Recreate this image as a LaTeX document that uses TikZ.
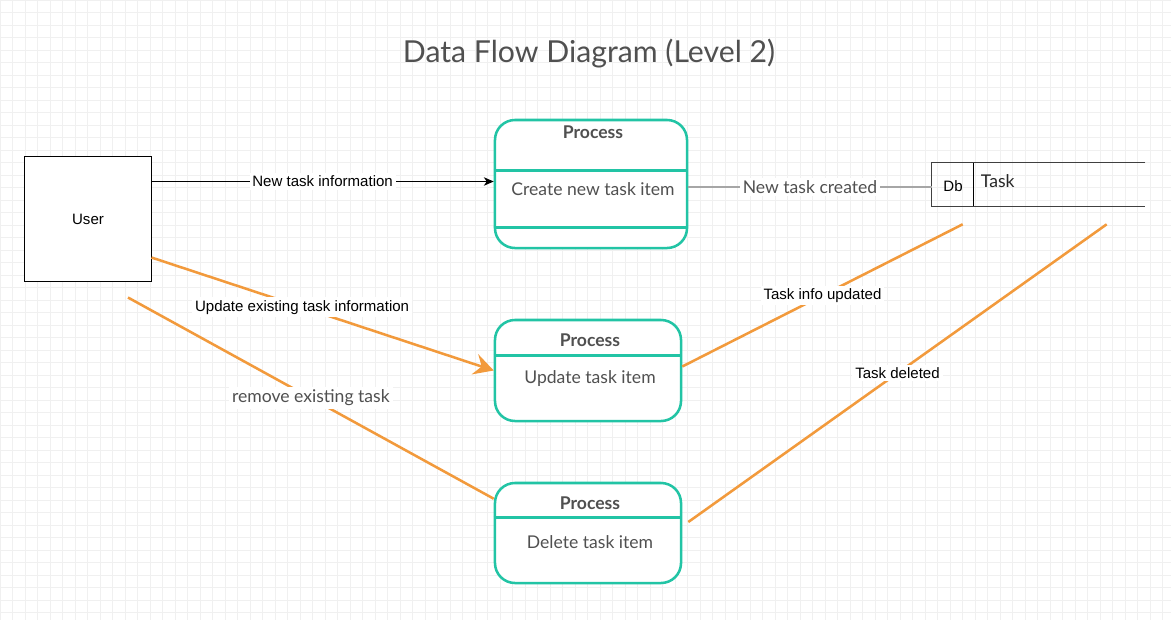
\documentclass[tikz,border=0pt]{standalone}
\usepackage{fontspec}
\setmainfont{Lato}
\newfontfamily\arialfont{Liberation Sans}
\usepackage{xcolor}
\usetikzlibrary{calc,arrows.meta,positioning}
\definecolor{procteal}{HTML}{22C4A5}
\definecolor{floworange}{HTML}{F29A3C}
\definecolor{textgray}{HTML}{505050}
\definecolor{linegray}{HTML}{A6A6A6}
\definecolor{gridgray}{HTML}{F0F0F0}
\tikzstyle{process}=[draw=procteal, line width=1.8pt, rounded corners=0.5cm, fill=white]
\tikzstyle{procdiv}=[draw=procteal, line width=1.8pt]
\tikzstyle{prochead}=[font=\bfseries\fontsize{12.5}{15}\selectfont, text=textgray]
\tikzstyle{proctext}=[font=\fontsize{12.5}{15}\selectfont, text=textgray]
\tikzstyle{entity}=[draw=black, line width=0.7pt, fill=white, font=\arialfont\fontsize{10.7}{13}\selectfont]
\tikzstyle{arlabel}=[fill=white, inner sep=2pt, font=\arialfont\fontsize{10.7}{13}\selectfont]
\tikzstyle{latolabel}=[fill=white, inner sep=2pt, font=\fontsize{12.5}{15}\selectfont, text=textgray]
\tikzstyle{orangeflow}=[draw=floworange, line width=1.8pt]
\newcommand{\procDivide}[2]{
	\draw[procdiv] ($(#1.north west)+(0,#2)$) -- ($(#1.north east)+(0,#2)$);
}

\begin{document}
\begin{tikzpicture}[x=0.025cm, y=-0.025cm]
	\useasboundingbox (0,0) rectangle (1171,620);
	\fill[white] (0,0) rectangle (1171,620);
	\draw[gridgray, line width=0.5pt, step=0.3125cm] (0,0) grid (1171,620);
	\node[font=\fontsize{21.5}{26}\selectfont, text=textgray] (title) at (589,54) {Data Flow Diagram (Level 2)};
	% external entity and data store
	\node[entity, minimum width=3.15cm, minimum height=3.1cm] (user) at (88,219) {User};
	\node[minimum width=5.325cm, minimum height=1.075cm, inner sep=0pt] (db) at (1038.5,184.5) {};
	\draw[line width=1.1pt, black!75] (db.north east) -- (db.north west) -- (db.south west) -- (db.south east);
	\draw[line width=0.9pt] ($(db.north west)+(42,0)$) -- ($(db.south west)+(42,0)$);
	\node[font=\arialfont\fontsize{10.7}{13}\selectfont] (dblabel) at (953,186) {Db};
	\node[anchor=west, font=\fontsize{12.5}{15}\selectfont, text=black!85] (dbname) at (976,181) {Task};
	% processes
	\node[process, minimum width=4.8cm, minimum height=3.2cm] (p1) at (591,184) {};
	\procDivide{p1}{52}
	\procDivide{p1}{109}
	\node[prochead] (p1head) at (593,132) {Process};
	\node[proctext] (p1text) at (593,189) {Create new task item};
	\node[process, minimum width=4.65cm, minimum height=2.525cm] (p2) at (588,370.5) {};
	\procDivide{p2}{37}
	\node[prochead] (p2head) at (590,340) {Process};
	\node[proctext] (p2text) at (590,379) {Update task item};
	\node[process, minimum width=4.65cm, minimum height=2.5cm] (p3) at (588,533) {};
	\procDivide{p3}{36}
	\node[prochead] (p3head) at (590,503) {Process};
	\node[proctext] (p3text) at (590,542) {Delete task item};
	% flows
	\coordinate (newout) at ($(user.north east)+(0,25)$);
	\draw[line width=0.7pt, -{Stealth[length=7pt,width=6pt,inset=2pt]}] (newout) -- (newout -| p1.west) node[arlabel, midway] {New task information};
	\draw[linegray, line width=1.6pt] ($(p1.east)+(0,3)$) -- ($(p1.east -| db.west)+(0,3)$) node[latolabel, midway] {New task created};
	\coordinate (updout) at ($(user.south east)+(0,-24)$);
	\draw[orangeflow, -{Stealth[length=14pt,width=15pt,inset=5pt]}] (updout) -- (p2.west) node[arlabel, pos=0.44] {Update existing task information};
	\coordinate (remout) at ($(user.south)+(40,16)$);
	\draw[orangeflow] (remout) -- ($(p3.north west)+(0,17)$) node[latolabel, midway] {remove existing task};
	\coordinate (updin) at ($(db.south west)+(31,18)$);
	\draw[orangeflow] ($(p2.east)+(0,-4)$) -- (updin) node[arlabel, midway] {Task info updated};
	\coordinate (delin) at ($(db.south west)+(175,18)$);
	\draw[orangeflow] ($(p3.east)+(6,-11)$) -- (delin) node[arlabel, midway] {Task deleted};
\end{tikzpicture}
\end{document}
